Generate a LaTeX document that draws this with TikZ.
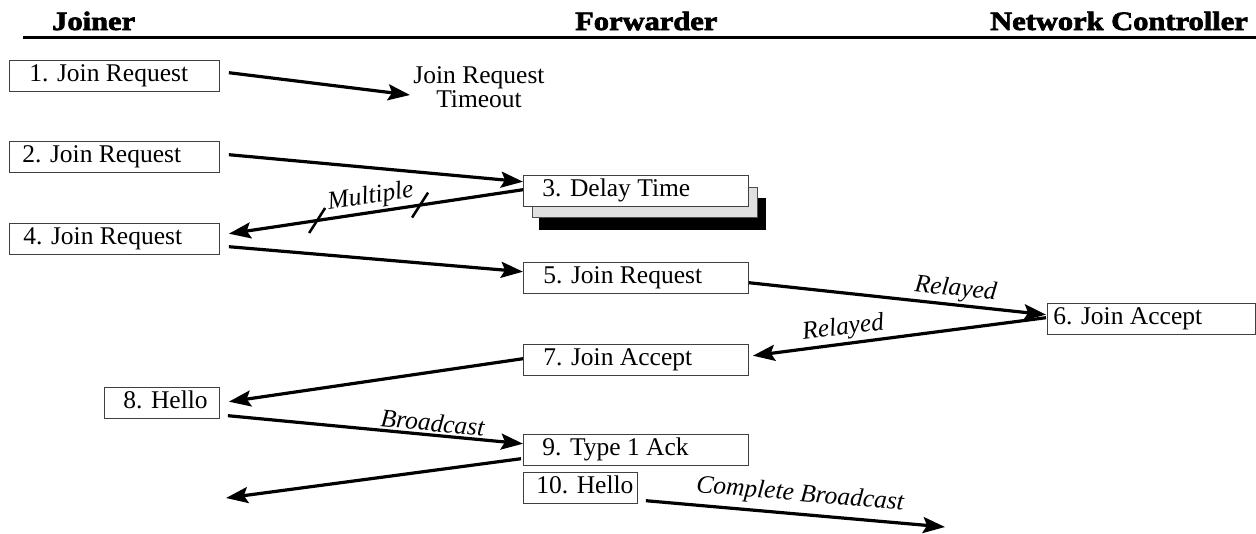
\documentclass[tikz,border=0pt]{standalone}
\usepackage{fontspec}
\setmainfont{Liberation Serif}
\newfontfamily\headfont[FakeBold=2.5]{Liberation Serif Bold}
\usetikzlibrary{arrows.meta,calc,backgrounds}
\newcommand\boxtext[3]{\makebox[#1pt][l]{\hspace*{#2pt}#3}}
\begin{document}
\begin{tikzpicture}[x=1pt,y=-1pt,
  head/.style={font=\headfont\fontsize{26.5}{26}\selectfont, inner sep=0pt, anchor=base west},
  txt/.style={font=\fontsize{25.5}{24}\selectfont, inner sep=0pt},
  box/.style={draw=black!75, line width=0.9pt, fill=white, anchor=north west, inner sep=0pt,
    minimum height=30.5pt, text height=17.5pt, text depth=5.5pt, font=\fontsize{25.5}{24}\selectfont},
  arr/.style={line width=3.2pt, -{Stealth[length=22pt,width=16pt,inset=4pt]}},
  lbl/.style={font=\itshape\fontsize{25.5}{24}\selectfont, sloped, above, inner sep=2pt},
  tick/.style={line width=2.5pt}]
\useasboundingbox (0,0) rectangle (1256,533);
% headings
\node[head] (hj) at (52,30) {\scalebox{1.15}[1]{Joiner}};
\node[head] (hf) at (575,30) {\scalebox{1.15}[1]{Forwarder}};
\node[head] (hn) at (990,30) {\scalebox{1.15}[1]{Network Controller}};
\draw[line width=2.5pt] (23,37.5) -- (1256,37.5);
% boxes
\node[box] (b1) at (9,60) {\boxtext{210}{20}{1. Join Request}};
\node[box] (b2) at (9,141) {\boxtext{210}{13}{2. Join Request}};
\node[box] (b3) at (523,175) {\boxtext{225}{19}{3. Delay Time}};
\begin{scope}[on background layer]
  \fill[black] ([shift={(16,23)}]b3.north west) rectangle ([shift={(17,24)}]b3.south east);
  \draw[draw=black!70, fill=black!12, line width=0.9pt] ([shift={(9,12)}]b3.north west) rectangle ([shift={(9,11)}]b3.south east);
\end{scope}
\node[box] (b4) at (9,223) {\boxtext{210}{14}{4. Join Request}};
\node[box] (b5) at (523,262) {\boxtext{225}{20}{5. Join Request}};
\node[box] (b6) at (1047,303) {\boxtext{208}{6}{6. Join Accept}};
\node[box] (b7) at (523,344) {\boxtext{225}{20}{7. Join Accept}};
\node[box] (b8) at (104,387) {\boxtext{115}{19}{8. Hello}};
\node[box] (b9) at (523,434) {\boxtext{225}{19}{9. Type 1 Ack}};
\node[box] (b10) at (523,472) {\boxtext{114}{13}{10. Hello}};
% timeout text
\node[txt, align=center] (tmo) at (479,87) {Join Request\\Timeout};
\coordinate (e1) at (410,95);
\coordinate (e9) at (226,498);
\coordinate (e10) at (945,527);
% arrows
\draw[arr] ([shift={(9,-3)}]b1.east) -- (e1);
\draw[arr] ([shift={(9,-2)}]b2.east) -- ([shift={(0,-9)}]b3.west);
\draw[arr] ([shift={(0,-1)}]b3.west) -- node[lbl, pos=0.51] (lm) {Multiple}
   coordinate[pos=0.70] (t1) coordinate[pos=0.35] (t2) ([shift={(9,-5)}]b4.east);
\draw[tick] ([shift={(-8,12.5)}]t1) -- ([shift={(8,-12.5)}]t1);
\draw[tick] ([shift={(-8,12.5)}]t2) -- ([shift={(8,-12.5)}]t2);
\draw[arr] ([shift={(9,8)}]b4.east) -- ([shift={(0,-6)}]b5.west);
\draw[arr] ([shift={(0,5)}]b5.east) -- node[lbl, pos=0.69] (lr1) {Relayed} ([shift={(-1,-4)}]b6.west);
\draw[arr] ([shift={(-1,-1)}]b6.west) -- node[lbl, pos=0.685] (lr2) {Relayed} ([shift={(4,-4)}]b7.east);
\draw[arr] ([shift={(0,-1)}]b7.west) -- ([shift={(9,-1)}]b8.east);
\draw[arr] ([shift={(8,13)}]b8.east) -- node[lbl, pos=0.69] (lb) {Broadcast} ([shift={(0,-6)}]b9.west);
\draw[arr] ([shift={(-2,9)}]b9.west) -- (e9);
\draw[arr] ([shift={(8,13)}]b10.east) -- node[lbl, pos=0.51, inner sep=6pt] (lc) {Complete Broadcast} (e10);
\end{tikzpicture}
\end{document}
